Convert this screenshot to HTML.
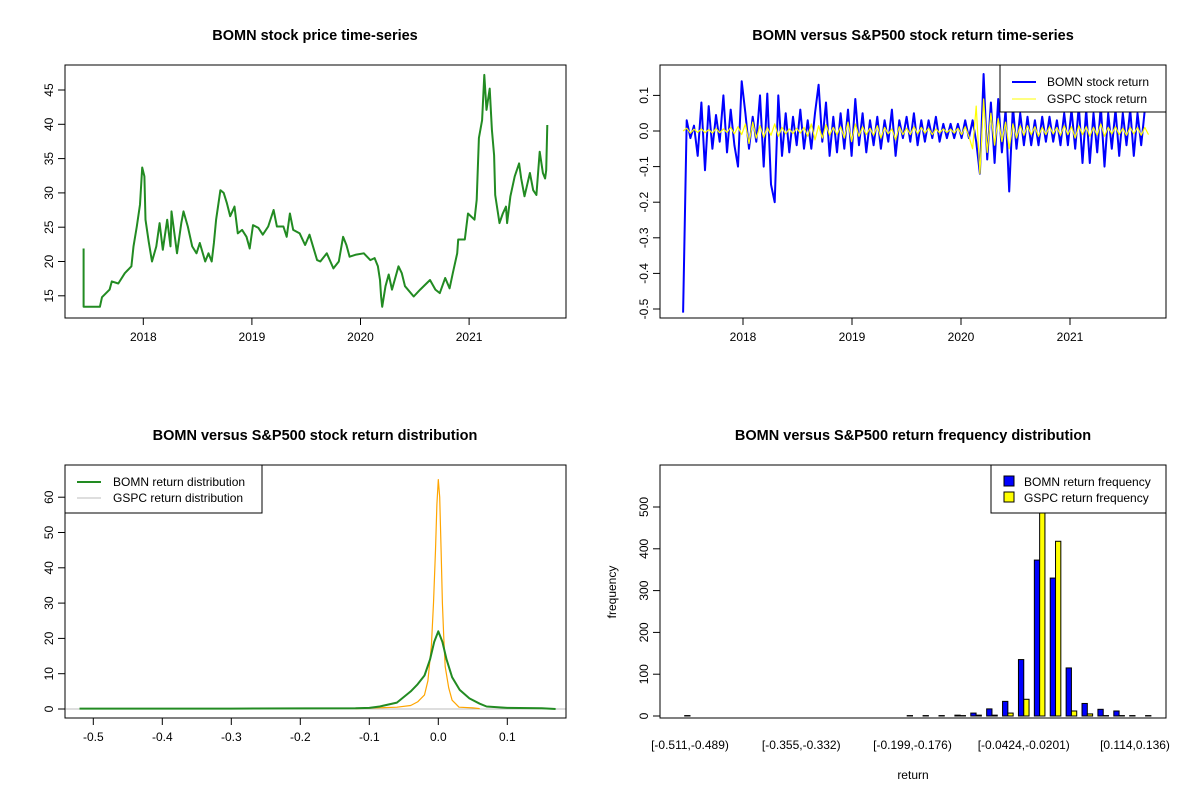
<!DOCTYPE html>
<html><head><meta charset="utf-8"><style>
body{margin:0;background:#fff}
svg{display:block;font-family:"Liberation Sans",Arial,sans-serif}
</style></head><body>
<svg id="c" width="1200" height="800" viewBox="0 0 1200 800"></svg>
<script>
// ---- data ----
const priceDates=[2017.45,2017.45,2017.60,2017.62,2017.69,2017.71,2017.77,2017.83,2017.89,2017.91,2017.94,2017.97,2017.99,2018.01,2018.02,2018.05,2018.08,2018.12,2018.15,2018.18,2018.22,2018.25,2018.26,2018.31,2018.35,2018.37,2018.41,2018.45,2018.49,2018.52,2018.57,2018.60,2018.63,2018.65,2018.67,2018.71,2018.74,2018.77,2018.80,2018.84,2018.87,2018.91,2018.95,2018.98,2019.01,2019.06,2019.10,2019.15,2019.20,2019.23,2019.29,2019.32,2019.35,2019.38,2019.44,2019.49,2019.53,2019.60,2019.63,2019.69,2019.75,2019.80,2019.84,2019.87,2019.90,2019.96,2020.03,2020.09,2020.13,2020.16,2020.18,2020.19,2020.20,2020.23,2020.26,2020.29,2020.35,2020.38,2020.41,2020.49,2020.55,2020.64,2020.69,2020.73,2020.78,2020.82,2020.85,2020.89,2020.90,2020.96,2020.99,2021.05,2021.07,2021.09,2021.12,2021.14,2021.16,2021.19,2021.21,2021.23,2021.24,2021.28,2021.31,2021.34,2021.35,2021.38,2021.42,2021.46,2021.48,2021.51,2021.56,2021.59,2021.62,2021.65,2021.68,2021.70,2021.71,2021.72];
const priceValues=[21.9,13.4,13.4,14.8,15.9,17.1,16.8,18.3,19.3,22.2,25.1,28.3,33.7,32.4,26.1,22.9,20.0,22.2,25.6,21.7,26.1,22.2,27.3,21.2,25.6,27.3,25.1,22.2,21.2,22.7,20.0,21.2,20.0,22.7,26.1,30.4,30.0,28.5,26.6,28.0,24.1,24.6,23.6,21.9,25.3,24.9,23.9,25.1,27.5,25.1,25.1,23.6,27.0,24.6,24.1,22.4,23.9,20.2,20.0,21.2,19.0,20.0,23.6,22.4,20.7,21.0,21.2,20.2,20.5,19.3,17.3,14.9,13.4,16.4,18.1,15.9,19.3,18.3,16.4,14.9,15.9,17.3,15.9,15.4,17.6,16.1,18.3,21.2,23.2,23.2,27.0,26.1,29.0,38.0,40.6,47.2,42.1,45.2,39.2,35.5,29.7,25.6,27.0,28.0,25.6,29.5,32.4,34.3,32.1,29.5,32.9,30.4,29.7,36.0,32.9,32.1,33.3,39.9];
const retStart=2017.45, retEnd=2021.72;
const bomnReturns=[-0.51,0.03,-0.02,0.015,-0.07,0.08,-0.11,0.07,-0.05,0.045,-0.03,0.10,-0.06,0.06,-0.04,-0.10,0.14,0.05,-0.05,0.04,-0.03,0.10,-0.10,0.105,-0.15,-0.20,0.10,-0.07,0.05,-0.06,0.04,-0.04,0.06,-0.05,0.03,-0.05,0.05,0.13,-0.03,0.08,-0.07,0.04,-0.06,0.05,-0.05,0.06,-0.07,0.09,-0.04,0.05,-0.06,0.03,-0.04,0.04,-0.05,0.03,-0.03,0.06,-0.07,0.03,-0.02,0.04,-0.03,0.05,-0.04,0.03,-0.03,0.03,-0.02,0.04,-0.03,0.02,-0.02,0.02,-0.02,0.02,-0.02,0.03,-0.02,0.03,-0.03,-0.12,0.16,-0.08,0.08,-0.09,0.09,-0.06,0.06,-0.17,0.07,-0.05,0.05,-0.04,0.04,-0.04,0.03,-0.04,0.04,-0.03,0.04,-0.03,0.03,-0.04,0.05,-0.04,0.06,-0.05,0.07,-0.09,0.06,-0.09,0.05,-0.06,0.07,-0.10,0.05,-0.05,0.06,-0.07,0.05,-0.04,0.06,-0.07,0.05,-0.04,0.06,0.07];
const gspcReturns=[0.0,0.008,-0.006,0.005,-0.004,0.006,-0.005,0.004,-0.006,0.007,-0.005,0.006,-0.004,0.01,-0.008,0.012,-0.01,0.02,-0.035,0.025,-0.02,0.015,-0.018,0.01,-0.012,0.02,-0.015,0.01,-0.008,0.006,-0.007,0.008,-0.006,0.01,-0.015,0.02,-0.025,0.015,-0.02,0.018,-0.012,0.01,-0.01,0.012,-0.02,0.025,-0.03,0.02,-0.015,0.012,-0.01,0.008,-0.012,0.015,-0.02,0.01,-0.008,0.006,-0.025,0.012,-0.01,0.008,-0.01,0.012,-0.008,0.01,-0.006,0.008,-0.01,0.006,-0.005,0.006,-0.004,0.005,-0.006,0.008,-0.01,0.012,-0.015,-0.05,0.07,-0.12,0.09,-0.06,0.05,-0.04,0.035,-0.03,0.025,-0.05,0.02,-0.02,0.015,-0.012,0.015,-0.01,0.012,-0.015,0.01,-0.01,0.012,-0.008,0.01,-0.012,0.015,-0.01,0.012,-0.02,0.015,-0.01,0.012,-0.015,0.01,-0.012,0.02,-0.015,0.01,-0.008,0.012,-0.01,0.008,-0.012,0.01,-0.008,0.01,-0.012,0.01,-0.01];
const bomnDensX=[-0.52,-0.3,-0.12,-0.1,-0.085,-0.06,-0.04,-0.03,-0.02,-0.012,-0.006,0,0.006,0.012,0.02,0.031,0.045,0.06,0.07,0.1,0.15,0.17];
const bomnDensY=[0.1,0.1,0.2,0.3,0.7,1.8,5,7,9.5,14,19,22,19,14,9,5.4,3,1.5,0.7,0.3,0.2,0];
const gspcDensX=[-0.12,-0.06,-0.04,-0.03,-0.02,-0.015,-0.01,-0.007,-0.004,-0.002,0,0.002,0.004,0.006,0.008,0.01,0.015,0.02,0.025,0.03,0.05,0.06];
const gspcDensY=[0.1,0.5,1,2,4,8,18,30,45,58,65,60,45,30,20,12,6,2.5,1.5,0.5,0.3,0.1];
const binLabels=["[-0.511,-0.489)","[-0.355,-0.332)","[-0.199,-0.176)","[-0.0424,-0.0201)","[0.114,0.136)"];
const bomnFreq=[1,0,0,0,0,0,0,0,0,0,0,0,0,0,1,1,1,2,7,17,35,135,373,330,115,30,16,12,1,1];
const gspcFreq=[0,0,0,0,0,0,0,0,0,0,0,0,0,0,0,0,0,1,2,2,7,40,560,418,12,5,1,1,0,0];
const yearTicks=[2018,2019,2020,2021];
const priceTicks=[15,20,25,30,35,40,45];
const retTicks=[0.1,0.0,-0.1,-0.2,-0.3,-0.4,-0.5];
const densXTicks=[-0.5,-0.4,-0.3,-0.2,-0.1,0.0,0.1];
const densYTicks=[0,10,20,30,40,50,60];
const freqTicks=[0,100,200,300,400,500];

// ---- helpers ----
const S=document.getElementById('c'),NS='http://www.w3.org/2000/svg';
function mk(t,a,p){const e=document.createElementNS(NS,t);for(const k in a)e.setAttribute(k,a[k]);(p||S).appendChild(e);return e;}
function lin(d0,d1,r0,r1){return v=>r0+(v-d0)/(d1-d0)*(r1-r0);}
function txt(x,y,s,o){const e=mk('text',Object.assign({x:x,y:y,'font-size':12,'text-anchor':'middle',fill:'#000'},o||{}));e.textContent=s;return e;}
function poly(pts,st,w,name){const e=mk('polyline',{points:pts.map(p=>p[0].toFixed(1)+','+p[1].toFixed(1)).join(' '),fill:'none',stroke:st,'stroke-width':w,'stroke-linejoin':'round'});

return e;}
function frame(x0,y0,x1,y1,name){const e=mk('rect',{x:x0,y:y0,width:x1-x0,height:y1-y0,fill:'none',stroke:'#000','stroke-width':1});

}
function xtick(x,y,l){mk('line',{x1:x,y1:y,x2:x,y2:y+7,stroke:'#000'});const t=txt(x,y+23,l);

}
function ytick(x,y,l){mk('line',{x1:x,y1:y,x2:x-7,y2:y,stroke:'#000'});const t=txt(x-12,y,l,{transform:'rotate(-90 '+(x-12)+' '+y+')'});

}
function title(x,y,s){const t=txt(x,y,s,{'font-size':14.5,'font-weight':'bold'});

}

// ---- panel 1: price ----
{const X=lin(2018,2019,143.3,251.9),Y=lin(45,40,90,124.3);
title(315,40,'BOMN stock price time-series');
poly(priceDates.map((d,i)=>[X(d),Y(priceValues[i])]),'#228B22',2,'price-line');
frame(65,65,566,318,'price-plot-frame');
mk('line',{x1:X(2018),y1:318,x2:X(2021),y2:318,stroke:'#000'});
yearTicks.forEach(t=>xtick(X(t),318,t));
mk('line',{x1:65,y1:Y(15),x2:65,y2:Y(45),stroke:'#000'});
priceTicks.forEach(t=>ytick(65,Y(t),t));}

// ---- panel 2: returns ----
{const X=lin(2018,2019,743,852),Y=lin(0,0.1,131,95.4);
title(913,40,'BOMN versus S&P500 stock return time-series');
const n=bomnReturns.length,step=(retEnd-retStart)/(n-1);
poly(bomnReturns.map((v,i)=>[X(retStart+i*step),Y(v)]),'#0000ff',2,'bomn-return-line');
poly(gspcReturns.map((v,i)=>[X(retStart+i*step),Y(v)]),'#ffff00',1.2,'gspc-return-line');
frame(660,65,1166,318,'return-plot-frame');
mk('line',{x1:X(2018),y1:318,x2:X(2021),y2:318,stroke:'#000'});
yearTicks.forEach(t=>xtick(X(t),318,t));
mk('line',{x1:660,y1:Y(0.1),x2:660,y2:Y(-0.5),stroke:'#000'});
retTicks.forEach(t=>ytick(660,Y(t),t.toFixed(1)));
const g=mk('g',{});
mk('rect',{x:1000,y:65,width:166,height:47,fill:'#fff',stroke:'#000'},g);
mk('line',{x1:1012,y1:82,x2:1036,y2:82,stroke:'#0000ff','stroke-width':2},g);
mk('line',{x1:1012,y1:99,x2:1036,y2:99,stroke:'#ffff00','stroke-width':1},g);
txt(1047,86,'BOMN stock return',{'text-anchor':'start'}); txt(1047,103,'GSPC stock return',{'text-anchor':'start'});}

// ---- panel 3: density ----
{const X=lin(0,0.1,438.3,507.3),Y=lin(0,10,709,673.7);
title(315,440,'BOMN versus S&P500 stock return distribution');
poly([[X(-0.54),Y(0)],[X(0.185),Y(0)]],'#bebebe',1,'gspc-flat-line');
poly(gspcDensX.map((x,i)=>[X(x),Y(gspcDensY[i])]),'#ffa500',1.2,'gspc-density-line');
poly(bomnDensX.map((x,i)=>[X(x),Y(bomnDensY[i])]),'#228B22',2,'bomn-density-line');
frame(65,465,566,718,'density-plot-frame');
mk('line',{x1:X(-0.5),y1:718,x2:X(0.1),y2:718,stroke:'#000'});
densXTicks.forEach(t=>xtick(X(t),718,t.toFixed(1)));
mk('line',{x1:65,y1:Y(0),x2:65,y2:Y(60),stroke:'#000'});
densYTicks.forEach(t=>ytick(65,Y(t),t));
const g=mk('g',{});
mk('rect',{x:65,y:465,width:197,height:48,fill:'#fff',stroke:'#000'},g);
mk('line',{x1:77,y1:482,x2:101,y2:482,stroke:'#228B22','stroke-width':2},g);
mk('line',{x1:77,y1:498,x2:101,y2:498,stroke:'#bebebe','stroke-width':1},g);
txt(113,486,'BOMN return distribution',{'text-anchor':'start'}); txt(113,502,'GSPC return distribution',{'text-anchor':'start'});}

// ---- panel 4: histogram ----
{const U=lin(2,86,690,1135),Y=lin(0,100,716,674.2);
title(913,440,'BOMN versus S&P500 return frequency distribution');
bomnFreq.forEach((v,i)=>{const b=mk('rect',{x:U(3*i+1),y:Y(v),width:U(3*i+2)-U(3*i+1),height:Y(0)-Y(v),fill:'#0000ff',stroke:'#000','stroke-width':1});

});
gspcFreq.forEach((v,i)=>{const b=mk('rect',{x:U(3*i+2),y:Y(v),width:U(3*i+3)-U(3*i+2),height:Y(0)-Y(v),fill:'#ffff00',stroke:'#000','stroke-width':1});

});
frame(660,465,1166,718,'frequency-plot-frame');
binLabels.forEach((l,k)=>{const t=txt(U(21*k+2),749,l);

});
mk('line',{x1:660,y1:Y(0),x2:660,y2:Y(500),stroke:'#000'});
freqTicks.forEach(t=>ytick(660,Y(t),t));
const xl=txt(913,779,'return');
const yl=txt(616,592,'frequency',{transform:'rotate(-90 616 592)'});
const g=mk('g',{});
mk('rect',{x:991,y:465,width:175,height:48,fill:'#fff',stroke:'#000'},g);
mk('rect',{x:1004,y:476,width:10,height:10,fill:'#0000ff',stroke:'#000'},g);
mk('rect',{x:1004,y:492,width:10,height:10,fill:'#ffff00',stroke:'#000'},g);
txt(1024,486,'BOMN return frequency',{'text-anchor':'start'}); txt(1024,502,'GSPC return frequency',{'text-anchor':'start'});}
</script>
</body></html>
